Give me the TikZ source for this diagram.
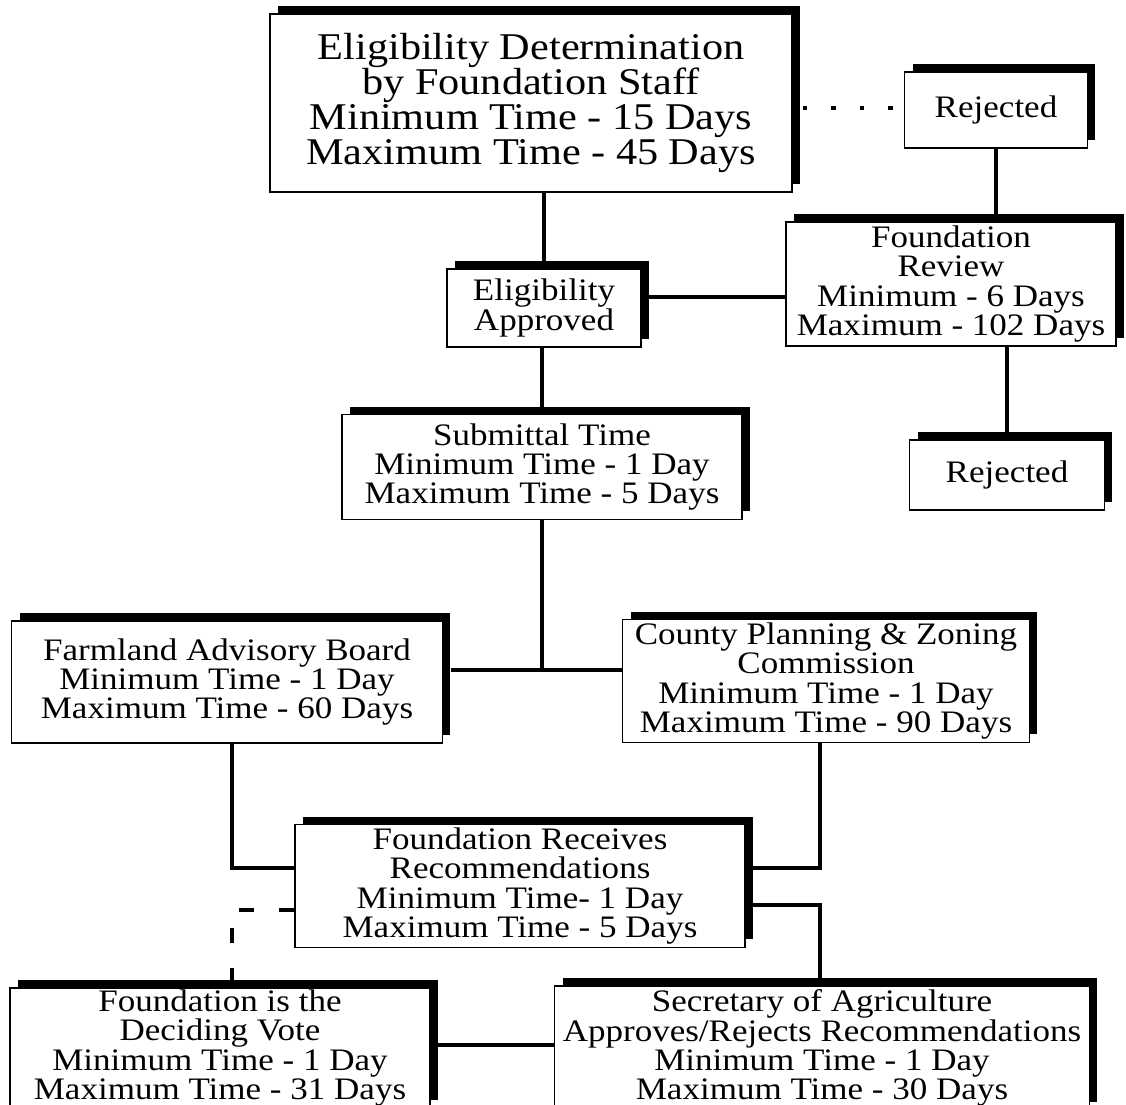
\documentclass[tikz,border=0pt]{standalone}
\usepackage{fontspec}
\setmainfont{Liberation Serif}[FakeStretch=1.12]
\usepackage{tikz}
\usetikzlibrary{shadows,calc,positioning}

\begin{document}
\begin{tikzpicture}
	[x=0.02cm,y=-0.02cm,
	every node/.style={align=center,inner sep=1pt,font=\fontsize{17.8}{16.6}\selectfont},
	box/.style={shape=rectangle,draw,line width=0.8pt,fill=white,
		drop shadow={shadow xshift=0.16cm,shadow yshift=0.16cm,fill=black,opacity=1}},
	conn/.style={-,line width=0.08cm},
	dots/.style={conn,dash pattern=on 0.09cm off 0.48cm},
	dashes/.style={conn,dash pattern=on 0.3cm off 0.5cm}]

	\path[use as bounding box,clip] (0,0) rectangle (1126,1105);

	\node[box] (elig) at (531,103) [minimum width=10.44cm,minimum height=3.56cm,
		font=\fontsize{21.5}{20}\selectfont]
		{Eligibility Determination\\by Foundation Staff\\Minimum Time - 15 Days\\Maximum Time - 45 Days};
	\node[box] (rej1) at (996,110) [minimum width=3.66cm,minimum height=1.52cm] {Rejected};
	\node[box] (rev) at (951,284) [minimum width=6.6cm,minimum height=2.48cm]
		{Foundation\\Review\\Minimum - 6 Days\\Maximum - 102 Days};
	\node[box] (rej2) at (1007,475) [minimum width=3.9cm,minimum height=1.4cm] {Rejected};
	\node[box] (appr) at (544,308) [minimum width=3.88cm,minimum height=1.56cm] {Eligibility\\Approved};
	\node[box] (sub) at (542,467) [minimum width=8cm,minimum height=2.1cm]
		{Submittal Time\\Minimum Time - 1 Day\\Maximum Time - 5 Days};
	\node[box] (fab) at (227,682) [minimum width=8.62cm,minimum height=2.44cm]
		{Farmland Advisory Board\\Minimum Time - 1 Day\\Maximum Time - 60 Days};
	\node[box] (cpz) at (826,681) [minimum width=8.14cm,minimum height=2.46cm]
		{County Planning \& Zoning\\Commission\\Minimum Time - 1 Day\\Maximum Time - 90 Days};
	\node[box] (frr) at (520,886) [minimum width=9cm,minimum height=2.46cm]
		{Foundation Receives\\Recommendations\\Minimum Time- 1 Day\\Maximum Time - 5 Days};
	\node[box] (fdv) at (220,1048) [minimum width=8.4cm,minimum height=2.4cm]
		{Foundation is the\\Deciding Vote\\Minimum Time - 1 Day\\Maximum Time - 31 Days};
	\node[box] (sec) at (822,1048) [minimum width=10.7cm,minimum height=2.48cm]
		{Secretary of Agriculture\\Approves/Rejects Recommendations\\Minimum Time - 1 Day\\Maximum Time - 30 Days};

	% straight drops
	\foreach \a/\b in {appr/elig,sub/appr,rej2/rev}
		\draw[conn] (\a.north) -- (\a.north |- \b.south);
	\draw[conn] (rej1.south) -- (rej1.south |- rev.north);
	\draw[conn] ([yshift=0.22cm]appr.east) -- ([yshift=0.22cm]appr.east -| rev.west);

	\draw[conn] (sub.south) -- ($(sub.south |- fab.east)+(0,-12)$);
	\draw[conn] ($(fab.east)+(8,-12)$) -- ($(fab.east -| cpz.west)+(0,-12)$);

	\draw[conn] ($(fab.south)+(5,0)$) |- ([yshift=0.36cm]frr.west);
	\draw[conn] ($(cpz.south)+(-6,0)$) |- ([yshift=0.36cm]frr.east);
	\draw[conn] ([yshift=-0.38cm]frr.east) -| ($(sec.north)+(-2,0)$);
	\draw[conn] ([yshift=0.06cm]fdv.east) -- ([yshift=0.06cm]fdv.east -| sec.west);

	% the not-approved ways
	\draw[dots] ($(elig.east |- rej1.west)+(10,-2)$) -- ($(rej1.west)+(0,-2)$);
	\draw[dashes] ([yshift=-0.48cm]frr.west) -| ($(fab.south |- fdv.north)+(5,0)$);
\end{tikzpicture}
\end{document}
